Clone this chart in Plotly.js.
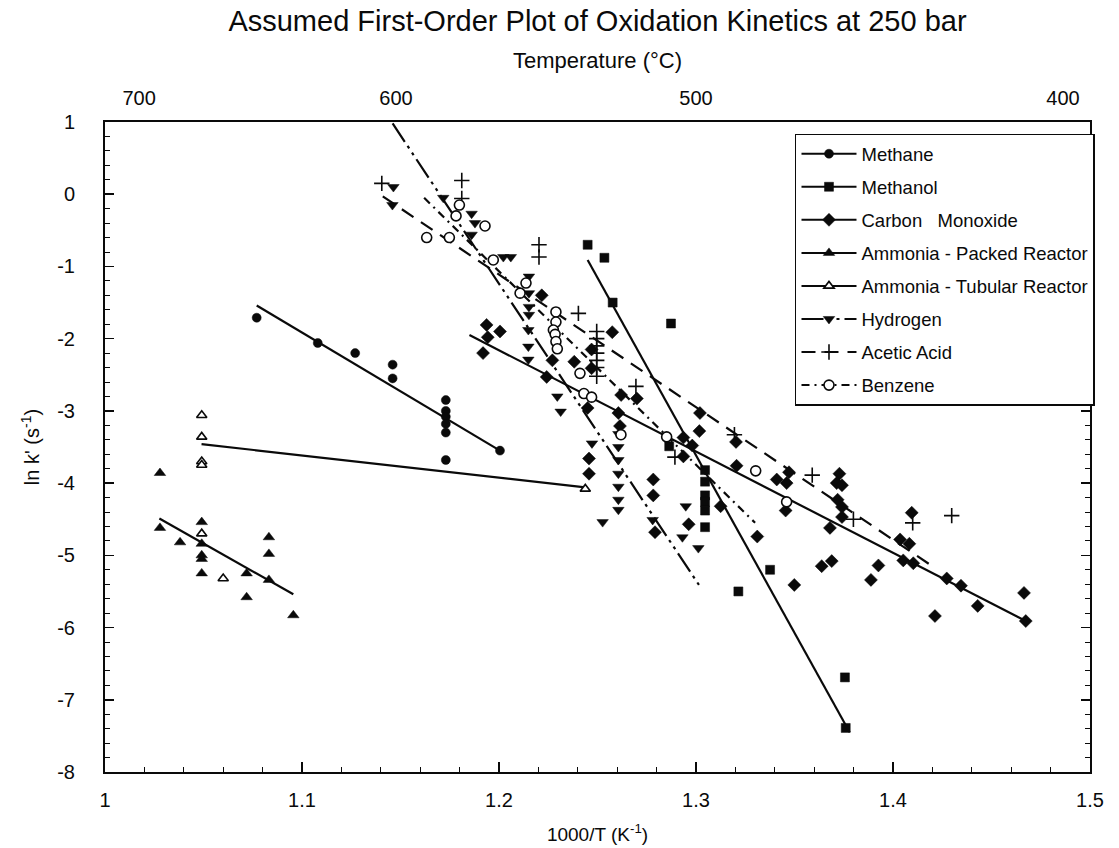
<!DOCTYPE html>
<html>
<head>
<meta charset="utf-8">
<script src="https://cdn.plot.ly/plotly-3.0.1.min.js"></script>
<style>html,body{margin:0;padding:0;background:#fff;}</style>
</head>
<body>
<div id="chart" style="width:1119px;height:848px;"></div>
<script>
// ---- data (x = 1000/T in 1/K, y = ln k') ----
const methaneX = [1.077, 1.108, 1.127, 1.146, 1.146, 1.173, 1.173, 1.173, 1.173, 1.173, 1.173, 1.2005];
const methaneY = [-1.71, -2.06, -2.20, -2.36, -2.55, -2.85, -3.00, -3.08, -3.18, -3.30, -3.68, -3.55];
const methaneFitX = [1.077, 1.2005];
const methaneFitY = [-1.54, -3.55];

const methanolX = [1.245, 1.2535, 1.2577, 1.2873, 1.2864, 1.3046, 1.3046, 1.3046, 1.3046, 1.3046, 1.3046, 1.3376, 1.3215, 1.3756, 1.3760];
const methanolY = [-0.70, -0.88, -1.50, -1.79, -3.49, -3.82, -3.98, -4.17, -4.26, -4.38, -4.61, -5.20, -5.50, -6.69, -7.39];
const methanolFitX = [1.245, 1.378];
const methanolFitY = [-0.91, -7.45];

const coX = [1.1919, 1.1937, 1.2005, 1.1943, 1.2217, 1.2271, 1.2382, 1.2470, 1.2470, 1.2242, 1.2575, 1.2620, 1.2700, 1.2450, 1.2606, 1.2614, 1.2457, 1.2457, 1.2783, 1.2783, 1.2792, 1.2963, 1.3125, 1.3311, 1.3499, 1.3638, 1.3689, 1.3888, 1.3926, 1.4213, 1.2936, 1.2981, 1.2936, 1.3017, 1.3020, 1.3203, 1.3206, 1.3410, 1.3460, 1.3472, 1.3455, 1.3728, 1.3714, 1.3741, 1.3719, 1.3741, 1.3680, 1.3741, 1.4095, 1.4036, 1.4083, 1.4052, 1.4103, 1.4273, 1.4345, 1.4430, 1.4665, 1.4674];
const coY = [-2.20, -1.81, -1.90, -1.98, -1.40, -2.30, -2.32, -2.15, -2.41, -2.53, -1.91, -2.78, -2.83, -2.96, -3.03, -3.21, -3.66, -3.87, -3.95, -4.17, -4.68, -4.57, -4.32, -4.74, -5.41, -5.15, -5.08, -5.34, -5.14, -5.84, -3.37, -3.48, -3.63, -3.28, -3.03, -3.43, -3.76, -3.95, -4.00, -3.85, -4.38, -3.87, -4.00, -4.03, -4.23, -4.33, -4.62, -4.47, -4.41, -4.78, -4.84, -5.07, -5.11, -5.32, -5.42, -5.70, -5.52, -5.91];
const coFitX = [1.185, 1.4674];
const coFitY = [-1.95, -5.91];

const nh3PackedX = [1.0279, 1.0279, 1.0381, 1.0491, 1.0491, 1.0491, 1.0491, 1.0491, 1.0719, 1.0719, 1.0832, 1.0832, 1.0832, 1.0956];
const nh3PackedY = [-3.86, -4.62, -4.82, -4.54, -4.84, -5.00, -5.05, -5.25, -5.25, -5.58, -4.75, -4.98, -5.34, -5.83];
const nh3PackedFitX = [1.0276, 1.0956];
const nh3PackedFitY = [-4.49, -5.54];

const nh3TubularX = [1.0491, 1.0491, 1.0491, 1.0491, 1.0491, 1.0600, 1.2438];
const nh3TubularY = [-3.06, -3.36, -3.70, -3.75, -4.70, -5.32, -4.08];
const nh3TubularFitX = [1.049, 1.2438];
const nh3TubularFitY = [-3.46, -4.06];

const hydrogenX = [1.1464, 1.1459, 1.1717, 1.1861, 1.1878, 1.1861, 1.2022, 1.2060, 1.2152, 1.2152, 1.2152, 1.2152, 1.2149, 1.2149, 1.2149, 1.2296, 1.2313, 1.2472, 1.2606, 1.2606, 1.2606, 1.2606, 1.2606, 1.2606, 1.2606, 1.2526, 1.2780, 1.2948, 1.2931, 1.3012];
const hydrogenY = [0.10, -0.15, -0.05, -0.27, -0.40, -0.56, -0.87, -0.87, -1.14, -1.37, -1.56, -1.67, -1.88, -2.11, -2.29, -2.80, -3.01, -3.45, -3.32, -3.50, -3.68, -3.87, -4.05, -4.23, -4.37, -4.54, -4.51, -4.32, -4.75, -4.90];
const hydrogenFitX = [1.146, 1.3015];
const hydrogenFitY = [0.98, -5.41];

const aceticX = [1.1405, 1.1811, 1.1811, 1.2203, 1.2203, 1.2403, 1.2496, 1.2496, 1.2496, 1.2496, 1.2496, 1.2496, 1.2496, 1.2695, 1.2893, 1.3195, 1.3590, 1.3799, 1.4100, 1.4298];
const aceticY = [0.15, 0.19, -0.06, -0.70, -0.87, -1.65, -1.90, -2.00, -2.10, -2.20, -2.30, -2.40, -2.52, -2.66, -3.64, -3.33, -3.89, -4.50, -4.55, -4.45];
const aceticFitX = [1.141, 1.4205];
const aceticFitY = [-0.03, -5.16];

const benzeneX = [1.1633, 1.1748, 1.1782, 1.1799, 1.1929, 1.1971, 1.2107, 1.2137, 1.2289, 1.2289, 1.2276, 1.2285, 1.2289, 1.2296, 1.2411, 1.2431, 1.2470, 1.2619, 1.2851, 1.3303, 1.3460];
const benzeneY = [-0.60, -0.60, -0.30, -0.15, -0.44, -0.91, -1.37, -1.23, -1.63, -1.77, -1.88, -1.94, -2.04, -2.14, -2.48, -2.76, -2.81, -3.33, -3.36, -3.83, -4.26];
const benzeneFitX = [1.162, 1.330];
const benzeneFitY = [-0.05, -4.55];

const seriesNames = ['Methane', 'Methanol', 'Carbon\u00a0\u00a0 Monoxide', 'Ammonia - Packed Reactor', 'Ammonia - Tubular Reactor', 'Hydrogen', 'Acetic Acid', 'Benzene'];

const bottomTickVals = [1, 1.1, 1.2, 1.3, 1.4, 1.5];
const bottomTickText = ['1', '1.1', '1.2', '1.3', '1.4', '1.5'];
const yTickVals = [1, 0, -1, -2, -3, -4, -5, -6, -7, -8];
const yTickText = ['1', '0', '-1', '-2', '-3', '-4', '-5', '-6', '-7', '-8'];
const tempTickText = ['700', '600', '500', '400'];
const tempTickPos = [1.0173, 1.1477, 1.300, 1.4863];

// ---- styles ----
const INK = '#0a0a0a';
const FONT = 'Liberation Sans, Arial, Helvetica, sans-serif';
const styles = [
  {sym: 'circle', fill: INK, size: 9, dash: 'solid'},
  {sym: 'square', fill: INK, size: 9, dash: 'solid'},
  {sym: 'diamond', fill: INK, size: 10, dash: 'solid'},
  {sym: 'triangle-up', fill: INK, size: 10, dash: 'solid'},
  {sym: 'triangle-up', fill: '#fff', size: 9, dash: 'solid'},
  {sym: 'triangle-down', fill: INK, size: 10, dash: '22px,5px,3px,5px,3px,5px'},
  {sym: 'cross-thin', fill: INK, size: 11, dash: '14px,9px'},
  {sym: 'circle', fill: '#fff', size: 10, dash: '8px,5px,2px,5px'}
];
const ptsX = [methaneX, methanolX, coX, nh3PackedX, nh3TubularX, hydrogenX, aceticX, benzeneX];
const ptsY = [methaneY, methanolY, coY, nh3PackedY, nh3TubularY, hydrogenY, aceticY, benzeneY];
const fitX = [methaneFitX, methanolFitX, coFitX, nh3PackedFitX, nh3TubularFitX, hydrogenFitX, aceticFitX, benzeneFitX];
const fitY = [methaneFitY, methanolFitY, coFitY, nh3PackedFitY, nh3TubularFitY, hydrogenFitY, aceticFitY, benzeneFitY];

function markerFor(s) {
  return {symbol: s.sym, size: s.size, color: s.fill,
          line: {color: INK, width: (s.fill === '#fff' || s.sym === 'cross-thin') ? 1.6 : 0.5}};
}

const traces = [];
for (let i = 0; i < 8; i++) {
  traces.push({x: fitX[i], y: fitY[i], mode: 'lines', showlegend: false, hoverinfo: 'skip',
    line: {color: INK, width: 2.2, dash: styles[i].dash}});
}
for (let i = 0; i < 8; i++) {
  traces.push({x: ptsX[i], y: ptsY[i], mode: 'markers', name: seriesNames[i], showlegend: false,
    marker: markerFor(styles[i])});
}
for (let i = 0; i < 8; i++) {
  traces.push({x: [null], y: [null], mode: 'lines+markers', name: seriesNames[i],
    legendgroup: 'g' + i, showlegend: true,
    line: {color: INK, width: 2, dash: styles[i].dash}, marker: markerFor(styles[i])});
}
traces.push({x: [null], y: [null], xaxis: 'x2', mode: 'markers', showlegend: false, hoverinfo: 'skip'});

const layout = {
  width: 1119, height: 848,
  margin: {l: 105, r: 29, t: 122, b: 76},
  paper_bgcolor: '#fff', plot_bgcolor: '#fff',
  font: {family: FONT, color: INK, size: 19},
  title: {text: 'Assumed First-Order Plot of Oxidation Kinetics at 250 bar',
          font: {family: FONT, size: 29, color: INK},
          x: 0.5, xref: 'paper', xanchor: 'center', y: 0.975, yref: 'container', yanchor: 'middle'},
  xaxis: {range: [1, 1.5], tickmode: 'array', tickvals: bottomTickVals, ticktext: bottomTickText,
          ticks: 'inside', ticklen: 10, tickwidth: 1.5, tickcolor: INK,
          minor: {dtick: 0.02, ticks: 'inside', ticklen: 5, tickwidth: 1, tickcolor: INK, showgrid: false},
          showline: true, linewidth: 2, linecolor: INK, mirror: true,
          showgrid: false, zeroline: false, ticklabelstandoff: 9,
          tickfont: {size: 20},
          title: {text: '1000/T (K<sup>-1</sup>)', font: {size: 19}, standoff: 18}},
  xaxis2: {overlaying: 'x', side: 'top', anchor: 'y', range: [1, 1.5], tickmode: 'array',
           tickvals: tempTickPos, ticktext: tempTickText, ticks: '', showline: false,
           showgrid: false, zeroline: false, ticklabelstandoff: 12, tickfont: {size: 20},
           title: {text: 'Temperature (°C)', font: {size: 22}, standoff: 12}},
  yaxis: {range: [-8, 1], tickmode: 'array', tickvals: yTickVals, ticktext: yTickText,
          ticks: 'inside', ticklen: 9, tickwidth: 1.5, tickcolor: INK,
          minor: {dtick: 0.2, ticks: 'inside', ticklen: 5, tickwidth: 1, tickcolor: INK, showgrid: false},
          showline: true, linewidth: 2, linecolor: INK, mirror: 'ticks',
          showgrid: false, zeroline: false, ticklabelstandoff: 24,
          tickfont: {size: 20},
          title: {text: "ln k' (s<sup>-1</sup>)", font: {size: 20}, standoff: 12}},
  legend: {x: 0.7005, y: 0.982, xanchor: 'left', yanchor: 'top', xref: 'paper', yref: 'paper',
           bgcolor: '#fff', bordercolor: INK, borderwidth: 1.5,
           font: {family: FONT, size: 18.5, color: INK},
           traceorder: 'grouped', tracegroupgap: 6, itemwidth: 55},
  showlegend: true
};

Plotly.newPlot('chart', traces, layout, {displayModeBar: false, staticPlot: true});
</script>
</body>
</html>
